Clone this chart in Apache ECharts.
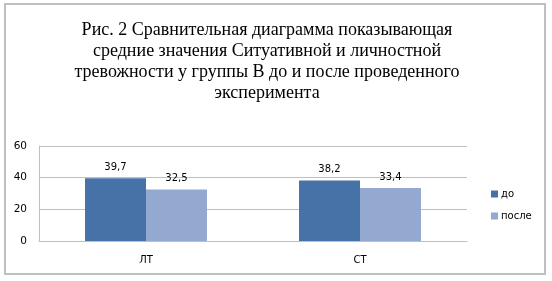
<!DOCTYPE html>
<html><head><meta charset="utf-8">
<script src="https://cdn.jsdelivr.net/npm/echarts@6/dist/echarts.min.js"></script>
<style>html,body{margin:0;padding:0;background:#fff}#c{width:552px;height:281px}</style>
</head><body><div id="c"></div>
<script>
const titleText = "Рис. 2 Сравнительная диаграмма показывающая\nсредние значения Ситуативной и личностной\nтревожности у группы В до и после проведенного\nэксперимента";
const categories = ["ЛТ", "СТ"];
const seriesNames = ["до", "после"];
const valuesBefore = [39.7, 38.2];
const valuesAfter = [32.5, 33.4];
const yTicks = [0, 20, 40, 60];

const colors = ["#4672A8", "#94A9D0"];
const fmt = p => String(p.value).replace('.', ',');
const chart = echarts.init(document.getElementById('c'), null, {renderer: 'canvas'});
chart.setOption({
  animation: false,
  color: colors,
  title: {
    text: titleText, left: 262, textAlign: 'center', top: 15,
    textStyle: {fontFamily: 'Liberation Serif', fontSize: 18, fontWeight: 'normal', color: '#000', lineHeight: 21}
  },
  graphic: [{type: 'rect', shape: {x: 5, y: 4, width: 540, height: 270}, style: {fill: 'none', stroke: '#bfbfbf', lineWidth: 2}, silent: true}],
  legend: {
    orient: 'vertical', left: 486, top: 184, itemGap: 12, itemWidth: 7, itemHeight: 7, icon: 'rect',
    textStyle: {fontFamily: 'DejaVu Sans', fontSize: 10, color: '#000', padding: [0, 0, 0, -2]},
    data: seriesNames
  },
  grid: {left: 39, top: 146, width: 428, height: 95, containLabel: false},
  xAxis: {
    type: 'category', data: categories,
    axisLine: {show: true, lineStyle: {color: '#bfbfbf', width: 1}},
    axisTick: {show: false},
    axisLabel: {fontFamily: 'DejaVu Sans', fontSize: 10, color: '#000', margin: 14}
  },
  yAxis: {
    type: 'value', min: yTicks[0], max: yTicks[yTicks.length - 1], interval: 20,
    axisLine: {show: true, lineStyle: {color: '#bfbfbf', width: 1}},
    axisTick: {show: false},
    splitLine: {lineStyle: {color: '#bfbfbf', width: 1}},
    axisLabel: {fontFamily: 'DejaVu Sans', fontSize: 10.5, color: '#000', margin: 12}
  },
  series: [
    {name: seriesNames[0], type: 'bar', data: valuesBefore, barGap: '0%', barCategoryGap: '43%',
     label: {show: true, position: 'top', distance: 6, formatter: fmt, fontFamily: 'DejaVu Sans', fontSize: 10, color: '#000'}},
    {name: seriesNames[1], type: 'bar', data: valuesAfter, barGap: '0%', barCategoryGap: '43%',
     label: {show: true, position: 'top', distance: 6, formatter: fmt, fontFamily: 'DejaVu Sans', fontSize: 10, color: '#000'}}
  ]
});
</script></body></html>
